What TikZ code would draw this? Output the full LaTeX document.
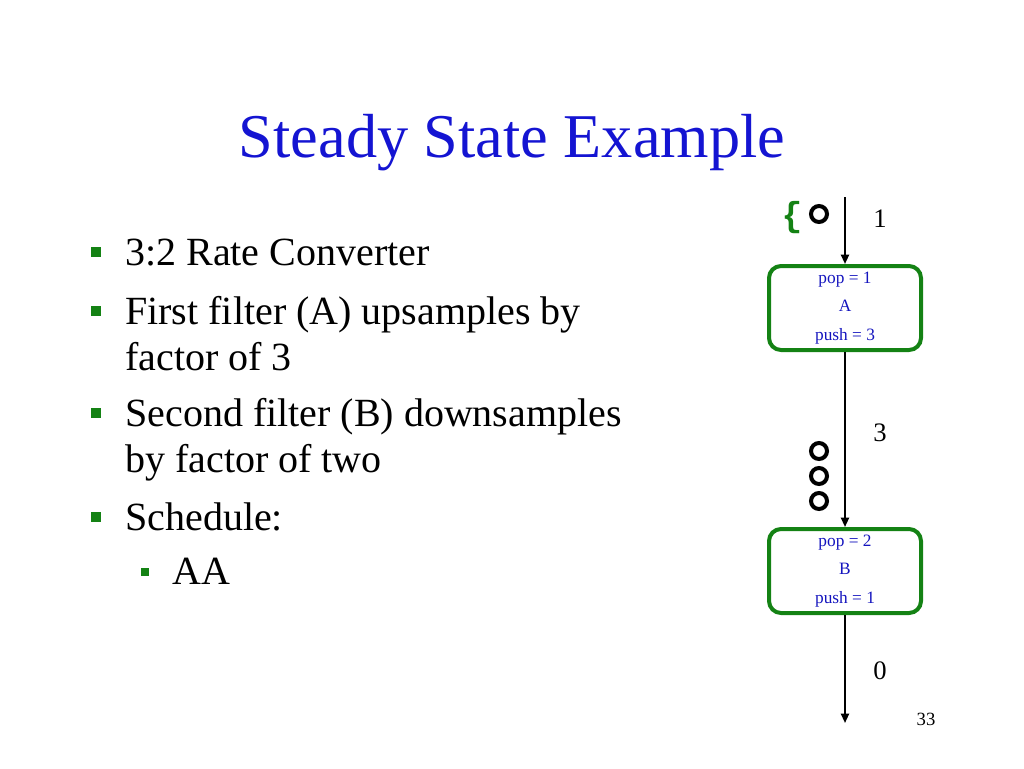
\documentclass[tikz,border=0pt]{standalone}
\usepackage{fontspec}
\setmainfont{Liberation Serif}
\setmonofont{Liberation Mono}
\usetikzlibrary{positioning, arrows.meta}
\definecolor{titleblue}{RGB}{20,20,210}
\definecolor{boxgreen}{RGB}{20,130,20}
\definecolor{textblue}{RGB}{20,20,190}

\begin{document}
\begin{tikzpicture}[x=0.75pt, y=-0.75pt,
    filter/.style={draw=boxgreen, line width=3pt, rounded corners=9pt,
      minimum width=114pt, minimum height=63pt, inner sep=0pt,
      align=center, text=textblue, font=\fontsize{13}{21.5}\selectfont},
    flow/.style={line width=1.5pt, -{Triangle[length=7pt, width=6pt]}},
    token/.style={circle, draw=black, line width=3pt, minimum size=12pt, inner sep=0pt},
    bullet/.style={fill=boxgreen, minimum size=8pt, inner sep=0pt},
    subbullet/.style={fill=boxgreen, minimum size=6pt, inner sep=0pt},
    item/.style={anchor=base west, align=left, inner sep=0pt,
      font=\fontsize{30}{34.5}\selectfont},
    rate/.style={font=\fontsize{20}{24}\selectfont}]
    \useasboundingbox (0,0) rectangle (1024,768);

    % Title
    \node[anchor=base, text=titleblue, font=\fontsize{46.7}{56}\selectfont] (title) at (512,157) {Steady State Example};

    % Bullet list (multi-line items sit on their last baseline)
    \node[bullet] (b1) at (96,252) {};
    \node[item] (t1) at (125,265) {3:2 Rate Converter};
    \node[bullet] (b2) at (96,311) {};
    \node[item] (t2) at (125,370) {First filter (A) upsamples by\\factor of 3};
    \node[bullet] (b3) at (96,413) {};
    \node[item] (t3) at (125,472) {Second filter (B) downsamples\\by factor of two};
    \node[bullet] (b4) at (96,517) {};
    \node[item] (t4) at (125,530) {Schedule:};
    \node[subbullet] (b5) at (145,572) {};
    \node[item] (t5) at (172,584) {AA};

    % Filters
    \node[filter] (A) at (845,308) {pop = 1\\A\\push = 3};
    \node[filter] (B) at (845,571) {pop = 2\\B\\push = 1};

    % Channels
    \coordinate (in) at (845,197);
    \coordinate (out) at (845,723);
    \draw[flow] (in) -- (A);
    \draw[flow] (A) -- (B);
    \draw[flow] (B) -- (out);

    % Rates
    \node[rate] (r1) at (880,219) {1};
    \node[rate] (r3) at (880,433) {3};
    \node[rate] (r0) at (880,671) {0};
    \node[font=\fontsize{14}{16}\selectfont] (page) at (926,719) {33};

    % Tokens on the channels
    \node[token] (k0) at (819,214) {};
    \node[text=boxgreen, font=\ttfamily\bfseries\fontsize{26}{28}\selectfont] (brace) at (792,218) {\{};
    \foreach \i/\y in {1/451, 2/476, 3/501}
      \node[token] (k\i) at (819,\y) {};
\end{tikzpicture}
\end{document}
